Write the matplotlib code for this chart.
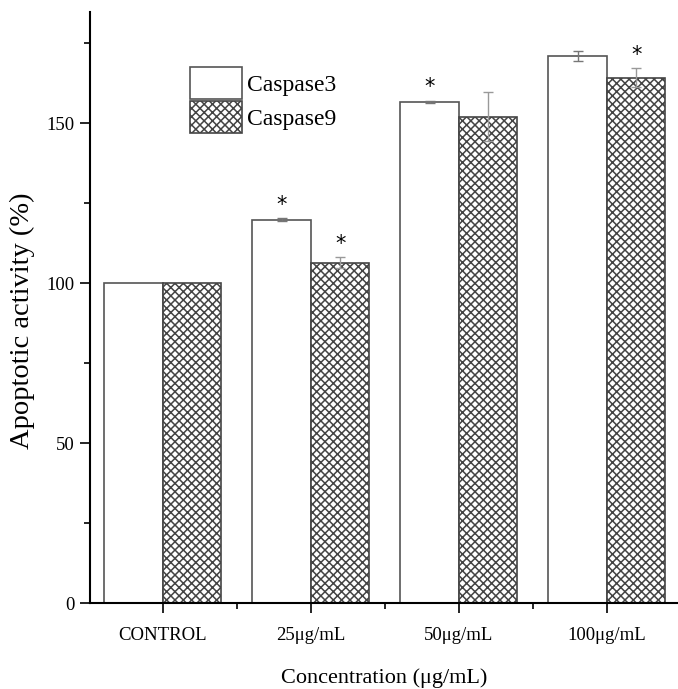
import numpy as np
import matplotlib
matplotlib.use('Agg')
import matplotlib.pyplot as plt

plt.rcParams['font.family'] = ['Liberation Serif', 'DejaVu Serif']
plt.rcParams['hatch.linewidth'] = 1.1
plt.rcParams['hatch.color'] = '#6a6a6a'

categories = ['CONTROL', '25\u03bcg/mL', '50\u03bcg/mL', '100\u03bcg/mL']
casp3 = [100, 119.8, 156.7, 171.0]
casp3_err = [0, 0.5, 0.3, 1.6]
casp9 = [100, 106.4, 152.0, 164.2]
casp9_err = [0, 1.6, 7.7, 3.0]
casp3_star = [False, True, True, False]
casp9_star = [False, True, False, True]

x = np.arange(len(categories))
w = 0.395

fig = plt.figure(figsize=(6.78, 6.89), dpi=100)
ax = fig.add_axes([0.1327, 0.1248, 0.8673, 0.8578])

ax.bar(x - w/2, casp3, w, color='white', edgecolor='#555555', linewidth=1.2,
       label='Caspase3')
ax.bar(x + w/2, casp9, w, color='white', edgecolor='#444444', hatch='xxxx',
       linewidth=1.2, label='Caspase9')

ax.errorbar(x[1:] - w/2, casp3[1:], yerr=casp3_err[1:], fmt='none',
            ecolor='#777777', elinewidth=1, capsize=3.5, capthick=1)
ax.errorbar(x[1:] + w/2, casp9[1:], yerr=casp9_err[1:], fmt='none',
            ecolor='#999999', elinewidth=1, capsize=3.5, capthick=1)

for i in range(len(categories)):
    if casp3_star[i]:
        ax.text(x[i] - w/2, casp3[i] + casp3_err[i] + 1, '*', ha='center',
                va='bottom', fontsize=15, fontfamily='DejaVu Sans')
    if casp9_star[i]:
        ax.text(x[i] + w/2, casp9[i] + casp9_err[i] + 1, '*', ha='center',
                va='bottom', fontsize=15, fontfamily='DejaVu Sans')

ax.set_xlim(-0.493, 3.48)
ax.set_ylim(0, 184.7)
ax.set_xticks(x)
ax.set_xticklabels(categories, fontsize=13.5)
ax.set_xticks(x[:-1] + 0.5, minor=True)
ax.set_yticks([0, 50, 100, 150])
ax.set_yticks([25, 75, 125, 175], minor=True)
ax.tick_params(axis='y', labelsize=13.5, direction='out', length=7, width=1.2, pad=4)
ax.tick_params(axis='x', direction='out', length=7, width=1.2, pad=10)
ax.tick_params(which='minor', direction='out', length=4, width=1.2)

ax.spines['top'].set_visible(False)
ax.spines['right'].set_visible(False)
ax.spines['left'].set_linewidth(1.5)
ax.spines['bottom'].set_linewidth(1.5)

ax.set_ylabel('Apoptotic activity (%)', fontsize=20.5)
ax.yaxis.set_label_coords(-0.094, 0.477)
ax.set_xlabel('Concentration (\u03bcg/mL)', fontsize=16, labelpad=18)

ax.legend(loc='upper left', bbox_to_anchor=(0.17, 0.907), frameon=False,
          fontsize=17, handlelength=2.2, handleheight=1.7, labelspacing=0.1,
          handletextpad=0.2, borderaxespad=0, borderpad=0)

fig.savefig('out.png', dpi=100)
